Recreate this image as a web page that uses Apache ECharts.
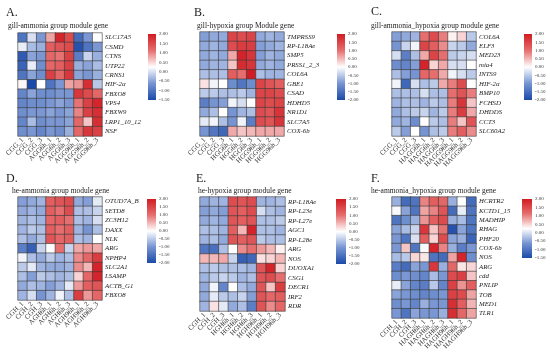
<!DOCTYPE html>
<html><head><meta charset="utf-8">
<script src="https://cdn.jsdelivr.net/npm/echarts@6/dist/echarts.min.js"></script>
<style>html,body{margin:0;padding:0;background:#fff}#c{width:550px;height:353px}</style>
</head><body><div id="c"></div>
<script>
// ---- data ----
const titlesA = "gill-ammonia group module gene";
const titlesB = "gill-hypoxia group Module gene";
const titlesC = "gill-ammonia_hypoxia group module gene";
const titlesD = "he-ammonia group module gene";
const titlesE = "he-hypoxia group module gene";
const titlesF = "he-ammonia_hypoxia group module gene";

const colsA = ["CGG_1","CGG_2","CGG_3","AGG6h_1","AGG6h_2","AGG6h_3","AGG96h_1","AGG96h_2","AGG96h_3"];
const colsB = ["CGG_1","CGG_2","CGG_3","HGG6h_1","HGG6h_2","HGG6h_3","HGG96h_1","HGG96h_2","HGG96h_3"];
const colsC = ["CGG_1","CGG_2","CGG_3","HAGG6h_1","HAGG6h_2","HAGG6h_3","HAGG96h_1","HAGG96h_2","HAGG96h_3"];
const colsD = ["CGH_1","CGH_2","CGH_3","AGH6h_1","AGH6h_2","AGH6h_3","AGH96h_1","AGH96h_2","AGH96h_3"];
const colsE = ["CGH_1","CGH_2","CGH_3","HGH6h_1","HGH6h_2","HGH6h_3","HGH96h_1","HGH96h_2","HGH96h_3"];
const colsF = ["CGH_1","CGH_2","CGH_3","HAGH6h_1","HAGH6h_2","HAGH6h_3","HAGH96h_1","HAGH96h_2","HAGH96h_3"];

const genesA = ["SLC17A5","CSMD","CTNS","UTP22","CRNS1","HIF-2α","FBXO8","VPS4","FBXW9","LRP1_10_12","NSF"];
const genesB = ["TMPRSS9","RP-L18Ae","SMP5","PRSS1_2_3","COL6A","GBE1","CSAD","HDHD5","NR1D1","SLC7A5","COX-6b"];
const genesC = ["COL6A","ELF3","MED23","mia4","INTS9","HIF-2α","BMP10","FCHSD","DHDDS","CCT3","SLC60A2"];
const genesD = ["OTUD7A_B","SETD8","ZC3H12","DAXX","NLK","ARG","NPHP4","SLC2A1","LSAMP","ACTB_G1","FBXO8"];
const genesE = ["RP-L18Ae","RP-L23e","RP-L27e","AGC1","RP-L28e","ARG","NOS","DUOXA1","CSG1","DECR1","IRF2","RDR"];
const genesF = ["HCRTR2","KCTD1_15","MADHIP","RHAG","PHF20","COX-6b","NOS","ARG","cdd","PNLIP","TOB","MED1","TLR1"];

const valsA = [
 [-1.0,0.0,-0.6,0.8,1.9,1.5,-1.1,-0.6,0.25],
 [0.1,-0.3,-0.4,1.3,1.4,1.5,-1.4,-1.0,-0.6],
 [-1.3,-0.5,-0.6,1.2,1.1,1.6,-0.9,-0.1,-0.4],
 [-1.2,0.1,-0.7,1.2,1.3,1.6,-0.4,-0.5,-0.3],
 [-1.0,-0.5,-0.7,1.6,1.2,1.7,-0.5,-0.6,-0.4],
 [0.3,-1.5,0.25,-1.0,-0.6,0.8,0.9,1.8,-0.2],
 [-0.8,-0.5,-0.7,-0.7,-0.6,-0.6,1.7,1.5,1.2],
 [-0.8,-0.7,-0.7,-0.6,-0.5,-0.6,1.1,1.6,1.9],
 [-0.7,-0.6,-0.6,-0.5,-0.6,-0.5,1.0,1.6,1.8],
 [-0.8,-0.3,-0.7,-0.6,-0.6,-0.5,1.2,0.6,1.8],
 [-0.7,-0.6,-0.8,-0.6,-0.7,-0.4,1.2,1.7,1.6]];
const valsB = [
 [-0.9,-0.8,-0.8,1.5,1.4,1.5,-0.8,-0.7,-0.8],
 [-0.8,-0.7,-0.8,1.4,1.6,1.6,-0.9,-0.8,-0.7],
 [-0.8,-0.7,-0.8,0.6,1.9,1.7,-0.9,-0.7,-0.8],
 [-0.8,-0.7,-0.7,0.4,1.8,1.7,-0.8,-0.7,-0.8],
 [-0.6,-0.6,-0.6,1.2,1.0,2.0,-0.6,-0.7,-0.7],
 [0.2,-0.1,0.0,-1.1,-1.4,-1.1,1.5,1.3,1.2],
 [-0.5,-0.5,-0.6,-0.6,-0.5,-0.7,1.5,1.5,1.4],
 [-1.3,-1.0,-0.9,-0.1,-0.3,0.0,1.5,1.4,1.5],
 [-0.8,-0.6,0.0,-1.0,-0.7,-0.6,1.4,1.3,1.7],
 [-0.2,-0.1,-0.6,-1.0,-0.1,-1.3,1.4,1.3,1.7],
 [-1.0,-1.4,-1.6,0.6,0.4,0.5,0.6,0.6,0.6]];
const valsC = [
 [-0.9,-0.8,-0.7,1.0,1.4,0.9,0.1,0.3,-0.5],
 [-1.0,-0.4,-0.1,1.5,1.2,0.8,-0.4,-0.5,-0.8],
 [-0.3,-1.3,-0.6,0.6,1.5,1.0,-0.5,-0.4,-0.3],
 [-1.1,-1.2,-0.9,1.9,0.3,0.6,-0.3,-0.3,0.0],
 [-0.6,-0.9,-1.0,1.1,1.0,0.6,-0.1,-0.3,-0.5],
 [-0.1,-1.6,-0.3,-0.6,-0.5,0.6,0.9,1.4,0.0],
 [-0.6,-0.6,-0.6,-0.3,-0.6,-0.6,1.0,1.3,0.9],
 [-0.7,-0.6,-0.6,-0.7,-0.5,-0.6,0.9,1.7,0.4],
 [-0.8,-0.6,-0.5,-0.4,-0.7,-0.5,0.9,1.6,0.6],
 [-0.8,-0.7,-1.1,0.0,-0.5,-0.6,0.9,0.4,1.3],
 [-0.5,-0.9,0.0,-1.0,-0.6,-0.5,0.9,1.2,0.8]];
const valsD = [
 [-0.9,-0.8,-0.7,1.2,1.3,1.4,-0.8,-0.9,-0.2],
 [-0.8,-0.7,-0.8,1.2,1.0,1.4,-0.6,-0.6,-0.4],
 [-0.7,-0.6,-0.7,1.1,1.2,1.0,-0.6,-0.7,-0.3],
 [-0.7,-0.5,-0.6,1.2,1.0,1.2,-0.7,-1.0,-0.6],
 [-0.6,-0.8,-0.6,1.3,1.1,1.2,-0.6,-0.7,0.0],
 [-1.3,-1.7,-0.4,0.0,1.0,-0.4,0.6,0.7,0.6],
 [-0.1,-0.6,-0.8,-0.5,-0.7,-0.6,0.8,1.1,1.6],
 [-0.5,-0.2,-0.7,-0.8,-0.8,-0.7,0.8,0.5,1.9],
 [-0.6,-0.9,-0.5,-0.6,-0.7,-0.6,0.3,1.1,1.9],
 [-0.8,-0.6,-0.7,-0.9,-0.7,-0.2,0.7,1.2,1.3],
 [-0.7,-0.3,-1.0,-0.7,-0.1,-0.6,1.6,0.7,1.1]];
const valsE = [
 [-0.8,-0.7,-0.7,1.4,1.3,1.4,-0.7,-0.7,-0.6],
 [-0.9,-0.8,-0.9,1.3,1.2,1.4,-0.3,-0.6,-0.7],
 [-0.8,-0.7,-0.8,1.3,1.2,1.3,-0.6,-0.6,-0.5],
 [-0.6,-0.6,-0.7,1.2,0.5,1.9,-0.6,-0.6,-0.7],
 [-0.7,-0.6,-0.8,1.3,1.2,1.3,-0.5,-0.6,-0.6],
 [-1.4,-1.5,-0.6,0.0,0.8,1.0,0.7,0.5,0.1],
 [0.5,0.5,0.6,-0.4,-1.7,-1.6,0.2,0.3,0.5],
 [-0.6,-0.5,-0.6,-0.6,-0.6,-0.7,1.3,1.9,0.3],
 [-0.7,-0.5,-0.4,-0.5,-0.7,-0.6,1.3,1.4,1.0],
 [-0.8,-0.1,-1.2,0.0,-0.6,-0.8,1.3,0.4,1.6],
 [-0.8,-0.2,-0.5,-0.6,-0.4,-0.9,1.3,1.1,1.2],
 [-0.7,0.2,-0.2,-0.8,-0.6,-1.3,1.3,0.8,1.1]];
const valsF = [
 [-0.4,-1.1,-1.0,1.0,1.3,1.2,-0.4,0.25,-1.1],
 [0.2,-0.5,-1.0,0.8,1.0,1.4,-1.1,0.1,-1.0],
 [-1.0,-0.7,-0.4,0.9,1.3,1.5,-0.4,-0.3,-1.0],
 [-0.5,-0.3,-0.1,1.7,0.6,1.1,-1.4,-0.5,-1.0],
 [-0.6,-1.0,0.0,1.3,0.5,1.5,-0.5,-0.4,-1.2],
 [-0.6,0.6,-1.0,0.2,1.9,1.0,-0.4,-0.9,-0.6],
 [-0.3,-0.2,0.5,0.4,-1.0,-1.1,0.8,1.9,-0.7],
 [-0.9,-1.1,-0.5,-0.6,1.7,-0.4,1.2,0.4,0.5],
 [-0.7,-0.6,-0.7,-0.8,-0.3,-0.6,1.5,1.6,0.6],
 [0.1,-0.5,-0.8,-0.9,-0.2,-0.8,1.6,0.9,1.3],
 [-0.5,-0.6,-0.7,-0.8,-0.7,-0.6,1.6,1.5,0.8],
 [-0.7,-0.6,-0.8,-0.4,-0.6,-0.6,1.8,1.3,0.7],
 [-0.6,-1.0,-0.5,-0.6,-0.6,-0.4,1.8,1.2,0.8]];

const scaleA = [-1.5, 2.0];
const scaleB = [-2.0, 2.0];
const scaleC = [-2.0, 2.0];
const scaleD = [-2.0, 2.0];
const scaleE = [-2.0, 2.0];
const scaleF = [-1.5, 2.0];
const letters = ["A.","B.","C.","D.","E.","F."];

// colour ramp: low -> mid -> high
const RAMP = ['#1c4aa8', '#7694d2', '#ffffff', '#e66e6e', '#d01c22'];

// ---- layout ----
const panels = [
 {t:titlesA, c:colsA, g:genesA, v:valsA, s:scaleA, grid:[18,33,84,103], cb:[148,34,8,66], title:[8,22], letter:[6,7]},
 {t:titlesB, c:colsB, g:genesB, v:valsB, s:scaleB, grid:[200,32,84,104], cb:[337,34,8,66], title:[197,22], letter:[194,7]},
 {t:titlesC, c:colsC, g:genesC, v:valsC, s:scaleC, grid:[392,32,84,104], cb:[524,34,8,66], title:[371,22], letter:[371,6]},
 {t:titlesD, c:colsD, g:genesD, v:valsD, s:scaleD, grid:[18,197,84,103], cb:[147,199,9,64], title:[12,187], letter:[6,173]},
 {t:titlesE, c:colsE, g:genesE, v:valsE, s:scaleE, grid:[200,197,85,114], cb:[336,199,10,65], title:[198,187], letter:[196,173]},
 {t:titlesF, c:colsF, g:genesF, v:valsF, s:scaleF, grid:[392,197,84,121], cb:[522,199,10,59], title:[371,187], letter:[371,173]}
];

const SERIF = "'Liberation Serif','DejaVu Serif',serif";
const option = {animation:false, backgroundColor:'#fff', title:[], grid:[], xAxis:[], yAxis:[], visualMap:[], series:[]};

function renderColorbar(params, api) {
  const lo = api.coord([0, api.value(0)]);
  const hi = api.coord([1, api.value(1)]);
  const stops = RAMP.slice().reverse().map((c, k) => ({offset:k/(RAMP.length-1), color:c}));
  return {type:'rect', shape:{x:lo[0], y:hi[1], width:hi[0]-lo[0], height:lo[1]-hi[1]},
    style:{fill:new echarts.graphic.LinearGradient(0,0,0,1,stops)}};
}

panels.forEach((p, i) => {
  option.title.push({text:letters[i], left:p.letter[0], top:p.letter[1], padding:0,
    textStyle:{fontFamily:SERIF, fontSize:12, fontWeight:'normal', color:'#222'}});
  option.title.push({text:p.t, left:p.title[0], top:p.title[1], padding:0,
    textStyle:{fontFamily:SERIF, fontSize:7.5, fontWeight:'normal', color:'#222'}});
  const gi = option.grid.length;
  option.grid.push({left:p.grid[0], top:p.grid[1], width:p.grid[2], height:p.grid[3], containLabel:false});
  option.xAxis.push({type:'category', gridIndex:gi, data:p.c, position:'bottom',
    axisLine:{show:false}, axisTick:{show:false}, splitLine:{show:false},
    axisLabel:{rotate:45, fontSize:7, fontFamily:SERIF, color:'#333', margin:3, interval:0}});
  option.yAxis.push({type:'category', gridIndex:gi, data:p.g, inverse:true, position:'right',
    axisLine:{show:false}, axisTick:{show:false}, splitLine:{show:false},
    axisLabel:{fontSize:6.8, fontStyle:'italic', fontFamily:SERIF, color:'#222', margin:3, interval:0}});
  const data = [];
  p.v.forEach((row, r) => row.forEach((val, c) => data.push([c, r, val])));
  const si = option.series.length;
  option.series.push({type:'heatmap', xAxisIndex:gi, yAxisIndex:gi, data:data,
    itemStyle:{borderColor:'#3a3a3a', borderWidth:0.6}, emphasis:{disabled:true}});
  option.visualMap.push({type:'continuous', seriesIndex:si, min:p.s[0], max:p.s[1], show:false,
    inRange:{color:RAMP}});
  // colorbar drawn through its own value axis
  const gj = option.grid.length;
  option.grid.push({left:p.cb[0], top:p.cb[1], width:p.cb[2], height:p.cb[3], containLabel:false});
  option.xAxis.push({type:'value', gridIndex:gj, show:false, min:0, max:1});
  option.yAxis.push({type:'value', gridIndex:gj, position:'right', min:p.s[0], max:p.s[1], interval:0.5,
    axisLine:{show:false}, axisTick:{show:false}, splitLine:{show:false},
    axisLabel:{fontSize:5, fontFamily:SERIF, color:'#333', margin:3, formatter:(v)=>v.toFixed(2)}});
  option.series.push({type:'custom', xAxisIndex:gj, yAxisIndex:gj, data:[[p.s[0], p.s[1]]],
    encode:{y:[0,1]}, renderItem:renderColorbar, silent:true, clip:false});
});

const chart = echarts.init(document.getElementById('c'), null, {renderer:'canvas'});
chart.setOption(option);
</script></body></html>
